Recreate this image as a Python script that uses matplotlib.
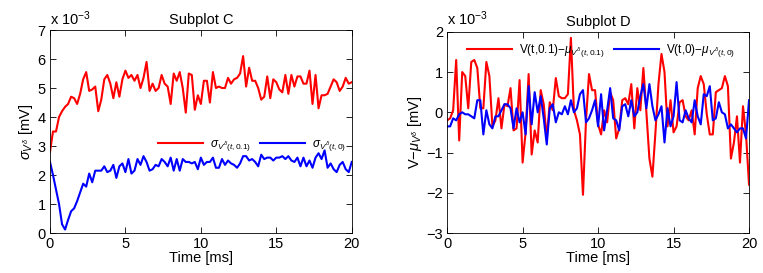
import numpy as np
import matplotlib.pyplot as plt

plt.rcParams['font.family'] = ['Liberation Sans', 'DejaVu Sans']
plt.rcParams['mathtext.fontset'] = 'custom'
plt.rcParams['mathtext.rm'] = 'Liberation Sans'
plt.rcParams['mathtext.it'] = 'Liberation Sans:italic'

# values in units of 1e-3 mV, sampled every 0.2 ms
sigma_01 = [2.8, 3.5, 3.5, 4.0, 4.2, 4.35, 4.45, 4.7, 4.65, 4.45,
            4.8, 5.3, 5.55, 4.9, 4.95, 5.05, 4.2, 4.6, 5.3, 5.45,
            5.15, 4.65, 5.2, 4.7, 5.3, 5.6, 5.35, 5.45, 5.25, 5.45,
            5.0, 5.35, 5.9, 4.9, 5.15, 4.9, 5.0, 5.45, 5.15, 5.05,
            4.45, 5.5, 5.25, 5.55, 5.0, 4.15, 5.5, 5.45, 4.25, 4.75,
            4.45, 5.25, 5.25, 4.5, 5.55, 5.0, 5.05, 5.0, 5.0, 5.35,
            5.15, 5.3, 5.35, 5.5, 6.1, 5.05, 5.7, 5.25, 5.25, 5.0,
            4.6, 4.7, 5.4, 4.65, 5.3, 5.2, 4.95, 4.85, 5.45, 4.8,
            5.45, 5.05, 5.4, 5.4, 5.15, 5.15, 5.6, 4.45, 5.45, 4.3,
            4.75, 4.75, 4.8, 5.05, 5.3, 5.2, 4.9, 5.05, 5.35, 5.15,
            5.2]
sigma_0 = [2.45, 2.0, 1.5, 1.0, 0.3, 0.12, 0.45, 0.75, 0.85, 1.1,
           1.4, 1.7, 1.6, 2.05, 1.75, 2.15, 2.15, 2.15, 2.3, 2.1,
           2.15, 2.35, 1.9, 2.3, 2.4, 2.1, 2.55, 2.05, 2.15, 2.55,
           2.35, 2.65, 2.45, 2.15, 2.2, 2.35, 2.3, 2.55, 2.45, 2.3,
           2.6, 2.15, 2.55, 2.15, 2.55, 2.45, 2.45, 2.4, 2.45, 2.2,
           2.6, 2.35, 2.45, 2.45, 2.6, 2.25, 2.25, 2.55, 2.35, 2.5,
           2.4, 2.35, 2.25, 2.4, 2.65, 2.65, 2.5, 2.55, 2.45, 2.3,
           2.7, 2.55, 2.6, 2.6, 2.5, 2.6, 2.6, 2.65, 2.55, 2.65,
           2.5, 2.45, 2.6, 2.3, 2.6, 2.3, 2.5, 2.25, 2.6, 2.75,
           2.55, 2.85, 2.25, 2.4, 2.2, 2.1, 2.35, 2.45, 2.2, 2.1,
           2.45]
dev_01 = [-0.2, -0.15, 0.05, 1.3, -0.7, 1.0, 0.9, 0.1, 1.25, 1.3,
          1.1, 0.1, 0.1, 1.25, 0.9, -0.35, -0.2, 0.35, -0.4, 0.2,
          0.15, 0.6, -0.45, -0.4, 0.8, -1.25, -0.5, 0.95, -1.05, -0.45,
          -0.75, 0.55, 0.2, -0.65, 0.25, 0.05, 0.85, 0.4, 0.35, 0.35,
          0.45, 1.85, 0.05, -0.2, -0.55, -2.05, -0.2, 0.95, 0.55, 0.55,
          -0.3, -0.55, 0.05, -0.25, 0.5, 0.3, -0.65, -0.4, 0.3, 0.35,
          0.2, 0.7, -0.4, 0.6, 0.05, 1.1, 0.0, -1.15, -1.6, -0.5,
          0.7, 1.45, 1.0, -0.35, 0.3, -0.5, -0.35, 0.25, 0.3, -0.1,
          -0.2, 0.05, -0.55, 0.6, 0.9, 0.7, -0.05, -0.55, -0.55, 0.5,
          0.55, 0.6, 0.9, 0.65, -1.15, -0.75, -0.1, -1.25, 0.15, -0.55,
          -1.8]
dev_0 = [-0.35, -0.35, -0.15, -0.2, -0.05, 0.0, -0.05, -0.05, -0.1, -0.15,
         0.3, 0.3, -0.55, 0.05, -0.3, -0.4, -0.1, -0.1, 0.05, 0.2,
         0.2, 0.1, -0.4, 0.1, -0.25, 0.0, -0.55, 0.65, -0.3, 0.5,
         0.0, 0.4, -0.15, -0.8, 0.1, 0.2, -0.25, 0.0, -0.05, 0.15,
         -0.05, 0.3, 0.0, 0.1, 0.45, 0.55, -0.25, -0.15, 0.05, 0.3,
         -0.35, 0.45, -0.45, 0.05, 0.6, -0.15, -0.2, -0.45, 0.15, 0.2,
         -0.1, 0.3, -0.1, 0.0, 0.4, 0.7, 0.1, 0.7, 0.15, -0.2,
         -0.05, 0.15, -0.75, 0.1, -0.35, -0.1, 0.75, -0.2, -0.25, 0.05,
         -0.15, -0.25, 0.3, -0.1, -0.3, 0.45, 0.4, 0.65, -0.2, -0.15,
         0.25, 0.0, -0.05, -0.4, -0.3, -0.4, -0.5, -0.4, -0.4, -0.65,
         0.3]
t = np.linspace(0, 20, len(sigma_01))

fig = plt.figure(figsize=(7.63, 2.73), dpi=100)
axC = fig.add_axes([0.0655, 0.1465, 0.3955, 0.7435])
axD = fig.add_axes([0.586, 0.1465, 0.3957, 0.737])

def style(ax):
    ax.tick_params(direction='in', top=True, right=True, labelsize=10.5,
                   length=4, width=0.6, pad=3)
    for s in ax.spines.values():
        s.set_linewidth(0.6)
    ax.set_xlim(0, 20)
    ax.set_xticks([0, 5, 10, 15, 20])
    ax.set_xlabel('Time [ms]', fontsize=10.5, labelpad=0)

axC.plot(t, sigma_01, color='#ff0000', lw=1.5,
         label=r'$\sigma_{V^{\delta}(t,0.1)}$')
axC.plot(t, sigma_0, color='#0000ff', lw=1.5,
         label=r'$\sigma_{V^{\delta}(t,0)}$')
style(axC)
axC.set_ylim(0, 7)
axC.set_yticks(range(0, 8))
axC.set_ylabel(r'$\sigma_{V^{\delta}}$ [mV]', fontsize=10.5, labelpad=2)
axC.set_title('Subplot C', fontsize=10.5, pad=4)
axC.text(0.0, 1.01, r'x 10$^{-3}$', transform=axC.transAxes, fontsize=10.5,
         va='bottom', ha='left')
axC.legend(loc='center', bbox_to_anchor=(0.67, 0.43), ncol=2, frameon=False,
           fontsize=8.5, handlelength=3.8, columnspacing=0.8, handletextpad=0.6)

axD.plot(t, dev_01, color='#ff0000', lw=1.5,
         label=r'V(t,0.1)$-\mu_{V^{\delta}(t,0.1)}$')
axD.plot(t, dev_0, color='#0000ff', lw=1.5,
         label=r'V(t,0)$-\mu_{V^{\delta}(t,0)}$')
style(axD)
axD.set_ylim(-3, 2)
axD.set_yticks(range(-3, 3))
axD.set_yticklabels(['\u22123', '\u22122', '\u22121', '0', '1', '2'])
axD.set_ylabel(r'V$-\mu_{V^{\delta}}$ [mV]', fontsize=10.5, labelpad=2)
axD.set_title('Subplot D', fontsize=10.5, pad=4)
axD.text(0.0, 1.02, r'x 10$^{-3}$', transform=axD.transAxes, fontsize=10.5,
         va='bottom', ha='left')
axD.legend(loc='upper center', bbox_to_anchor=(0.51, 1.0), ncol=2, frameon=False,
           fontsize=8.5, handlelength=3.8, columnspacing=0.8, handletextpad=0.6)

fig.savefig('out.png', dpi=100)
